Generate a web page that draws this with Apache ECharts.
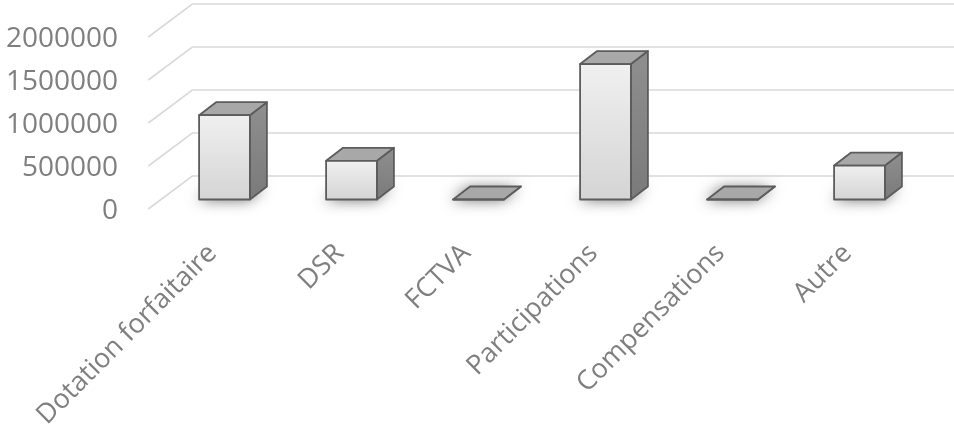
<!DOCTYPE html>
<html>
<head>
<meta charset="utf-8">
<script src="https://cdn.jsdelivr.net/npm/echarts@6/dist/echarts.min.js"></script>
<style>
  html, body { margin: 0; padding: 0; background: #ffffff; }
  #chart { width: 954px; height: 430px; }
</style>
</head>
<body>
<div id="chart"></div>
<script>
// Recettes par poste
const categories = ['Dotation forfaitaire', 'DSR', 'FCTVA', 'Participations', 'Compensations', 'Autre'];
const values = [980000, 450000, 0, 1575000, 0, 395000];
const yTicks = [0, 500000, 1000000, 1500000, 2000000];

// Oblique 3D look: depth of the bars and of the floor/back wall, in pixels
const BAR_DX = 17, BAR_DY = -13;
const FRONT_DX = -12.7, FRONT_DY = 9.5;
const BACK_DX = 31.3, BACK_DY = -23.5;

const chart = echarts.init(document.getElementById('chart'), null, { renderer: 'canvas' });

function renderGridLine(params, api) {
  const cs = params.coordSys;
  const y = api.coord([0, api.value(1)])[1];
  const left = cs.x;
  const right = cs.x + cs.width;
  return {
    type: 'polyline',
    shape: {
      points: [
        [left + FRONT_DX, y + FRONT_DY],
        [left + BACK_DX, y + BACK_DY],
        [right + BACK_DX + 10, y + BACK_DY]
      ]
    },
    style: { stroke: '#d9d9d9', lineWidth: 1.6, fill: null },
    silent: true
  };
}

function renderBar(params, api) {
  const i = api.value(0);
  const v = api.value(1);
  const base = api.coord([i, 0]);
  const top = api.coord([i, v]);
  const w = api.size([1, 0])[0] * 0.4;
  const x0 = base[0] - w / 2, x1 = base[0] + w / 2;
  const y0 = base[1], y1 = top[1];
  const edge = '#5c5c5c';
  return {
    type: 'group',
    children: [
      {
        type: 'polygon',
        shape: { points: [[x0, y0], [x0 + BAR_DX, y0 + BAR_DY], [x1 + BAR_DX, y0 + BAR_DY], [x1, y0]] },
        style: { fill: '#9a9a9a', shadowBlur: 14, shadowColor: 'rgba(0,0,0,0.55)', shadowOffsetX: -2, shadowOffsetY: 1 }
      },
      {
        type: 'polygon',
        shape: { points: [[x1, y1], [x1 + BAR_DX, y1 + BAR_DY], [x1 + BAR_DX, y0 + BAR_DY], [x1, y0]] },
        style: {
          fill: new echarts.graphic.LinearGradient(0, 0, 0, 1, [
            { offset: 0, color: '#8f8f8f' },
            { offset: 1, color: '#7a7a7a' }
          ]),
          stroke: edge, lineWidth: 1.8, lineJoin: 'round'
        }
      },
      {
        type: 'polygon',
        shape: { points: [[x0, y1], [x0 + BAR_DX, y1 + BAR_DY], [x1 + BAR_DX, y1 + BAR_DY], [x1, y1]] },
        style: { fill: '#a8a8a8', stroke: edge, lineWidth: 1.8, lineJoin: 'round' }
      },
      {
        type: 'polygon',
        shape: { points: [[x0, y1], [x1, y1], [x1, y0], [x0, y0]] },
        style: {
          fill: new echarts.graphic.LinearGradient(0, 0, 0, 1, [
            { offset: 0, color: '#f0f0f0' },
            { offset: 1, color: '#d4d4d4' }
          ]),
          stroke: edge, lineWidth: 1.8, lineJoin: 'round'
        }
      }
    ]
  };
}

const labelFont = { color: '#7f7f7f', fontFamily: 'Open Sans' };

const option = {
  backgroundColor: '#ffffff',
  animation: false,
  grid: [
    // plane of the bars' front faces
    { left: 161, right: 31, top: 27.5, bottom: 230.5, containLabel: false, outerBoundsMode: 'none' },
    // front edge of the floor, where the axis labels sit
    { left: 149, right: 43, top: 39, bottom: 219, containLabel: false, outerBoundsMode: 'none' }
  ],
  xAxis: [
    {
      gridIndex: 0,
      type: 'category',
      data: categories,
      axisLine: { show: false },
      axisTick: { show: false },
      splitLine: { show: false },
      axisLabel: { show: false }
    },
    {
      gridIndex: 1,
      type: 'category',
      data: categories,
      axisLine: { show: false },
      axisTick: { show: false },
      splitLine: { show: false },
      axisLabel: Object.assign({ interval: 0, rotate: 45, margin: 38, fontSize: 27 }, labelFont)
    }
  ],
  yAxis: [
    {
      gridIndex: 0,
      type: 'value',
      min: 0,
      max: 2000000,
      interval: 500000,
      axisLine: { show: false },
      axisTick: { show: false },
      splitLine: { show: false },
      axisLabel: { show: false }
    },
    {
      gridIndex: 1,
      type: 'value',
      min: 0,
      max: 2000000,
      interval: 500000,
      axisLine: { show: false },
      axisTick: { show: false },
      splitLine: { show: false },
      axisLabel: Object.assign({ margin: 31, fontSize: 28, formatter: v => String(v) }, labelFont)
    }
  ],
  series: [
    {
      type: 'custom',
      xAxisIndex: 0,
      yAxisIndex: 0,
      renderItem: renderGridLine,
      data: yTicks.map(t => [0, t]),
      z: 1,
      silent: true
    },
    {
      type: 'custom',
      xAxisIndex: 0,
      yAxisIndex: 0,
      renderItem: renderBar,
      data: values.map((v, i) => [i, v]),
      z: 2
    }
  ]
};

chart.setOption(option);
</script>
</body>
</html>
